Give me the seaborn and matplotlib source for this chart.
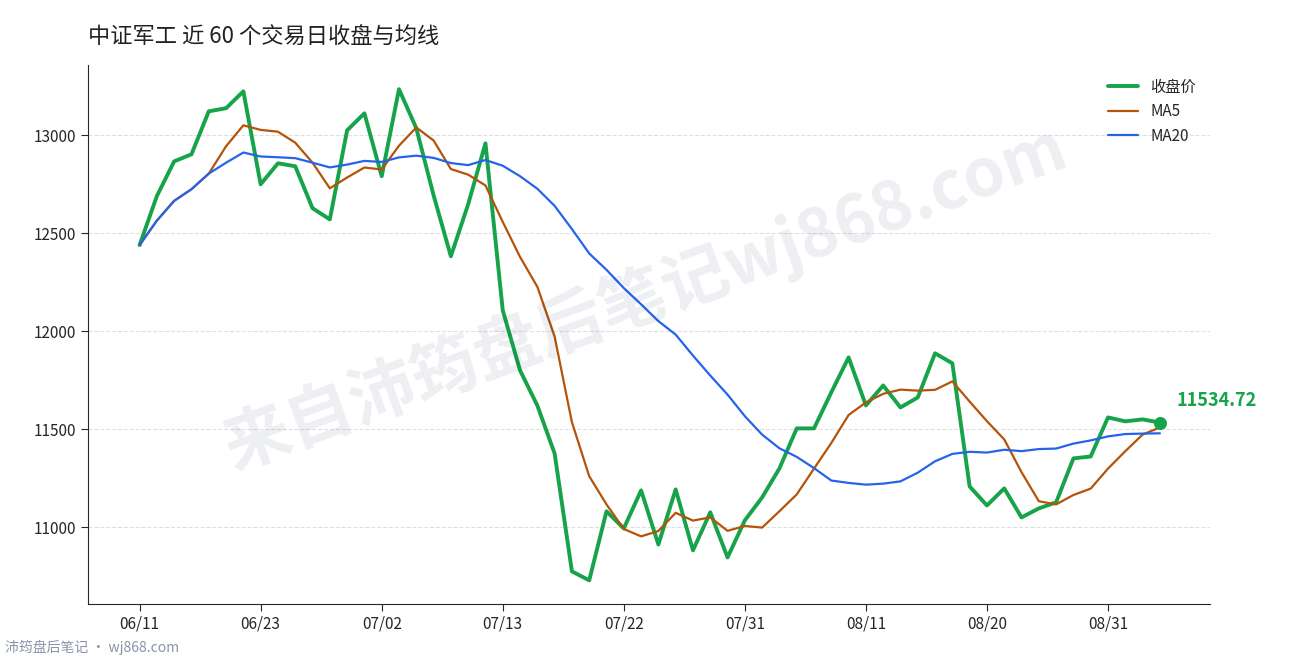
import numpy as np
import pandas as pd
import matplotlib
matplotlib.use("Agg")
import matplotlib.pyplot as plt
import seaborn as sns

sns.set_style("white")
plt.rcParams['font.family'] = ['Noto Sans CJK SC', 'DejaVu Sans']

# closing prices, last 60 trading days
close = [12440, 12690, 12867, 12903, 13122, 13138, 13224, 12750, 12857, 12842,
         12628, 12571, 13025, 13112, 12791, 13235, 13036, 12694, 12383, 12648,
         12959, 12107, 11801, 11622, 11377, 10776, 10730, 11082, 10995, 11189,
         10913, 11194, 10883, 11077, 10847, 11036, 11153, 11301, 11505, 11505,
         11689, 11867, 11622, 11724, 11612, 11663, 11888, 11837, 11209, 11112,
         11199, 11051, 11097, 11128, 11352, 11362, 11561, 11541, 11551, 11534.72]
tick_pos = [0, 7, 14, 21, 28, 35, 42, 49, 56]
tick_labels = ["06/11", "06/23", "07/02", "07/13", "07/22", "07/31", "08/11", "08/20", "08/31"]

df = pd.DataFrame({"idx": np.arange(len(close)), "close": close})
df["ma5"] = df["close"].rolling(5, min_periods=1).mean()
df["ma20"] = df["close"].rolling(20, min_periods=1).mean()

green = "#16a34a"
fig = plt.figure(figsize=(12.9, 6.6), dpi=100)
ax = fig.add_axes([0.068, 0.085, 0.87, 0.817])

sns.lineplot(data=df, x="idx", y="close", ax=ax, color=green, lw=2.8, label="收盘价")
sns.lineplot(data=df, x="idx", y="ma5", ax=ax, color="#b45309", lw=1.6, label="MA5")
sns.lineplot(data=df, x="idx", y="ma20", ax=ax, color="#2563eb", lw=1.6, label="MA20")

last = df.iloc[-1]
ax.scatter([last["idx"]], [last["close"]], color=green, s=70, zorder=5)
ax.annotate(f"{last['close']:.2f}", (last["idx"], last["close"]), xytext=(12, 12),
            textcoords="offset points", color=green, fontsize=13, fontweight="bold")

ax.set_xticks(tick_pos)
ax.set_xticklabels(tick_labels)
ax.set_xlim(-3, 61.9)
ax.set_ylim(10610, 13360)
ax.set_yticks([11000, 11500, 12000, 12500, 13000])
ax.set_xlabel("")
ax.set_ylabel("")
ax.grid(axis="y", ls="--", color="#e0e0e0", lw=0.8)
ax.tick_params(labelsize=11, length=5, left=True, bottom=True)
for s in ["top", "right"]:
    ax.spines[s].set_visible(False)
ax.legend(frameon=False, loc="upper right", fontsize=11)

fig.text(0.068, 0.944, "中证军工 近 60 个交易日收盘与均线", fontsize=16, color="#222222", va="center")
fig.text(0.5, 0.55, "来自沛筠盘后笔记wj868.com", fontsize=48, color="#1f2a5a", alpha=0.08,
         rotation=20, ha="center", va="center", fontweight="bold")
fig.text(0.004, 0.012, "沛筠盘后笔记 · wj868.com", fontsize=10, color="#8a93a6")

fig.savefig("out.png", dpi=100)
